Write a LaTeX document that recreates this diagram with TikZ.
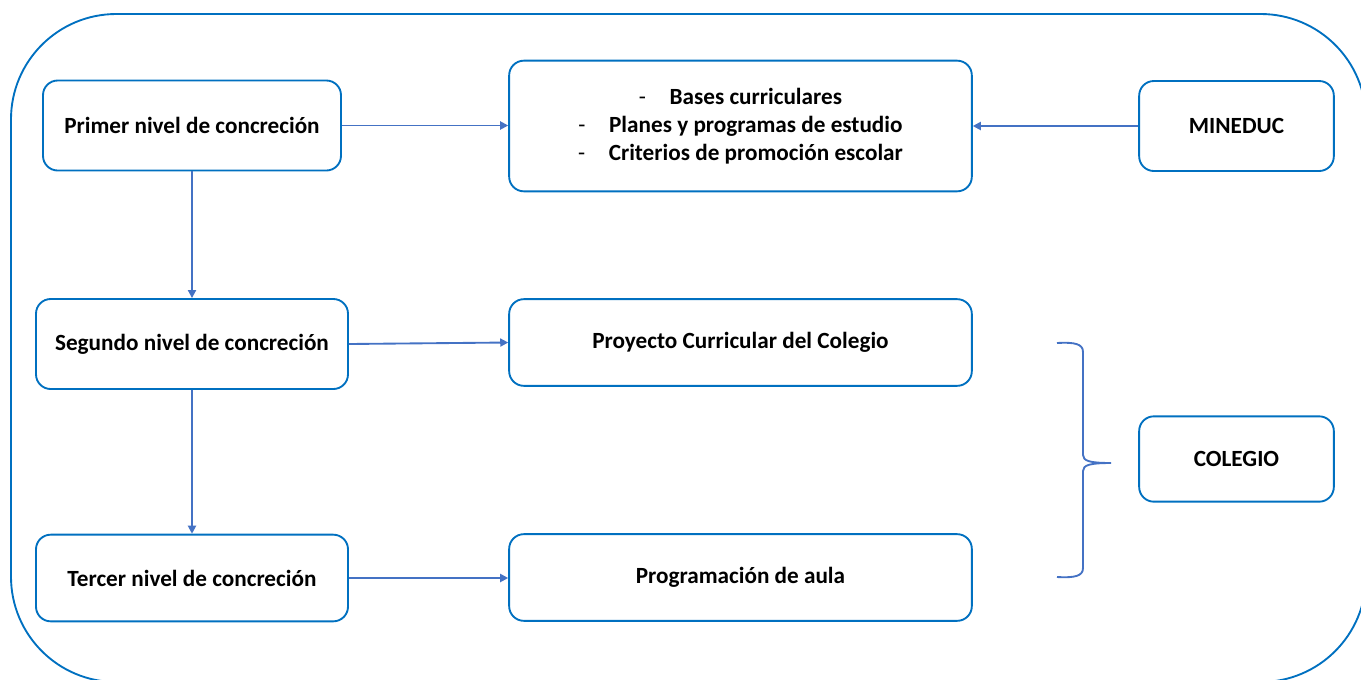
\documentclass[tikz,border=0pt]{standalone}
\usepackage{fontspec}
\setmainfont{Carlito}
\usetikzlibrary{arrows.meta}

\definecolor{frameblue}{HTML}{0070C0}
\definecolor{linkblue}{HTML}{4472C4}

\begin{document}
\begin{tikzpicture}[x=0.75pt,y=-0.75pt,
  nivel/.style={rectangle,rounded corners=11pt,draw=frameblue,line width=1.4pt,fill=white,
    inner sep=0pt,font=\fontsize{17.4}{21}\selectfont\bfseries,align=center},
  flecha/.style={draw=linkblue,line width=1.4pt,-{Triangle[length=6pt,width=6pt]}},
  llave/.style={draw=linkblue,line width=1.4pt}]

\useasboundingbox (0,0) rectangle (1361,679);
\clip (0,0) rectangle (1361,679);

% marco exterior
\draw[frameblue,line width=1.4pt,rounded corners=79pt] (11,14) rectangle (1366,682);

% niveles de concrecion
\node[nivel,minimum width=223.5pt,minimum height=67.5pt] (N1) at (192,125.5) {Primer nivel de concreción};
\node[nivel,minimum width=234pt,minimum height=67.5pt] (N2) at (192,344) {Segundo nivel de concreción};
\node[nivel,minimum width=234pt,minimum height=65pt] (N3) at (192,578) {Tercer nivel de concreción};

\node[nivel,minimum width=347pt,minimum height=98pt] (B1) at (740.5,126)
  {\makebox[23pt][l]{\mdseries -}Bases curriculares\\
   \makebox[23pt][l]{\mdseries -}Planes y programas de estudio\\
   \makebox[23pt][l]{\mdseries -}Criterios de promoción escolar};
\node[nivel,minimum width=347pt,minimum height=65pt] (B2) at (740.5,342.5) {Proyecto Curricular del Colegio};
\node[nivel,minimum width=347pt,minimum height=65pt] (B3) at (740.5,577.5) {Programación de aula};

\node[nivel,minimum width=146pt,minimum height=67.5pt] (M) at (1236.5,126) {MINEDUC};
\node[nivel,minimum width=146pt,minimum height=64pt] (C) at (1236.5,459) {COLEGIO};

% conexiones
\draw[flecha] (N1) -- (B1.west |- N1);
\draw[flecha] (M) -- (B1.east |- M);
\draw[flecha] (N1) -- (N2);
\draw[flecha] (N2) -- (N3);
\draw[flecha] (N2.east) -- (B2.west);
\draw[flecha] (N3) -- (B3.west |- N3);

% llave
\coordinate (LL1) at (1057,343);
\coordinate (LL2) at (1057,577);
\coordinate (LLp) at (1111,463);
\draw[llave] (LL1) .. controls (1075,342) and (1083,344) .. (1083,352) -- (1083,455)
  .. controls (1083,461) and (1090,463) .. (LLp)
  .. controls (1090,463) and (1083,465) .. (1083,471) -- (1083,568)
  .. controls (1083,576) and (1075,578) .. (LL2);

\end{tikzpicture}
\end{document}
